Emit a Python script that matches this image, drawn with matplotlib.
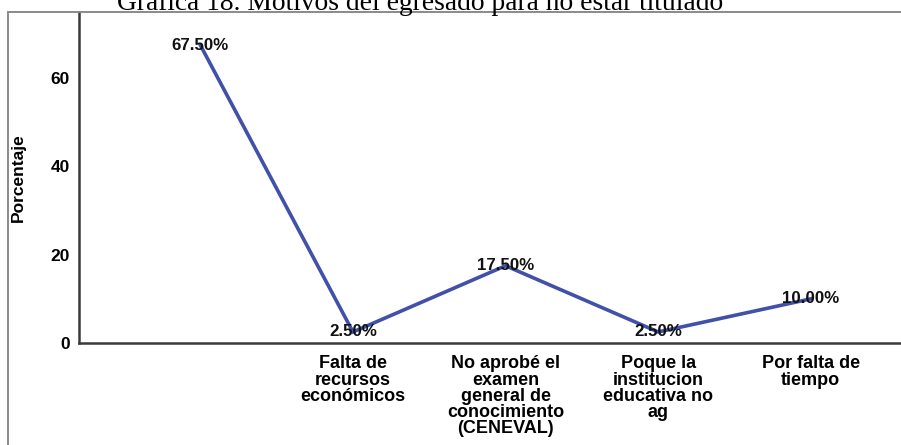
import matplotlib
matplotlib.use("Agg")
import matplotlib.pyplot as plt
from matplotlib.patches import Rectangle
from matplotlib.transforms import ScaledTranslation

title = "Gráfica 18. Motivos del egresado para no estar titulado"
categories = ["",
              "Falta de\nrecursos\neconómicos",
              "No aprobé el\nexamen\ngeneral de\nconocimiento\n(CENEVAL)",
              "Poque la\ninstitucion\neducativa no\nag",
              "Por falta de\ntiempo"]
values = [67.5, 2.5, 17.5, 2.5, 10.0]
labels = ["67.50%", "2.50%", "17.50%", "2.50%", "10.00%"]
yticks = [0, 20, 40, 60]

W, H = 901, 445
fig = plt.figure(figsize=(W / 100, H / 100), dpi=100)
fig.patch.set_facecolor("white")

# outer frame
fig.patches.append(Rectangle((8 / W, -0.2), 1.2, (H - 12) / H + 0.2,
                             transform=fig.transFigure, fill=False,
                             edgecolor="#8a8a8a", linewidth=1.4))

ax_w = 1 - 79 / W + 0.01
ax = fig.add_axes([79 / W, (H - 343) / H, ax_w, (343 - 12) / H])
x = list(range(len(categories)))
ax.plot(x, values, color="#4150a8", linewidth=2.6, solid_joinstyle="miter")
for xi, v, lab in zip(x, values, labels):
    ax.text(xi, v, lab, ha="center", va="center", fontsize=12.2,
            fontweight="bold", family="Liberation Sans", color="#111111")

ax.set_xlim(-0.795, 4.65)
ax.set_ylim(0, 75)
ax.set_xticks(x)
ax.set_xticklabels(categories, fontsize=13, fontweight="bold",
                   family="Liberation Sans", linespacing=0.93, va="top")
ax.set_yticks(yticks)
ax.set_yticklabels([str(t) for t in yticks], fontsize=12.5, fontweight="bold",
                   family="Liberation Sans")
off = ScaledTranslation(0, -3 / 100, fig.dpi_scale_trans)
for t in ax.get_yticklabels():
    t.set_transform(t.get_transform() + off)
ax.tick_params(axis="both", length=0)
ax.tick_params(axis="x", pad=9)
ax.tick_params(axis="y", pad=6.5)
for s in ["top", "right"]:
    ax.spines[s].set_visible(False)
for s in ["left", "bottom"]:
    ax.spines[s].set_color("#3a3a3a")
    ax.spines[s].set_linewidth(1.8)
ax.set_ylabel("Porcentaje", fontsize=12.5, fontweight="bold",
              family="Liberation Sans")
ax.yaxis.set_label_coords(-53 / (ax_w * W), 0.5)

fig.text(420 / W, (H - 10) / H, title, ha="center", va="baseline",
         fontsize=19.8, family="Liberation Serif")

fig.savefig("out.png", dpi=100)
